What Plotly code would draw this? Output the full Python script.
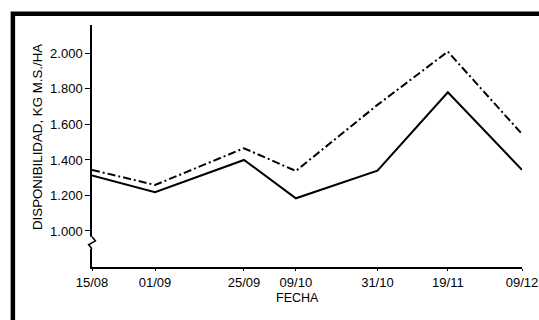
import plotly.graph_objects as go

fechas = ["1985-08-15", "1985-09-01", "1985-09-25", "1985-10-09", "1985-10-31", "1985-11-19", "1985-12-09"]
etiquetas_x = ["15/08", "01/09", "25/09", "09/10", "31/10", "19/11", "09/12"]
serie_continua = [1312, 1218, 1400, 1184, 1340, 1781, 1344]
serie_punteada = [1344, 1259, 1466, 1338, 1710, 2010, 1546]
ticks_y = [1000, 1200, 1400, 1600, 1800, 2000]
etiquetas_y = ["1.000", "1.200", "1.400", "1.600", "1.800", "2.000"]

FONT = "Liberation Sans, Arial, sans-serif"

fig = go.Figure()
fig.add_trace(go.Scatter(x=fechas, y=serie_punteada, mode="lines",
                         line=dict(color="black", width=2, dash="8px,3px,2px,3px"),
                         showlegend=False, hoverinfo="skip", cliponaxis=False))
fig.add_trace(go.Scatter(x=fechas, y=serie_continua, mode="lines",
                         line=dict(color="black", width=2),
                         showlegend=False, hoverinfo="skip", cliponaxis=False))

fig.update_layout(
    width=539, height=320,
    margin=dict(l=92, r=17, t=25, b=53),
    paper_bgcolor="white", plot_bgcolor="white",
    font=dict(family=FONT, size=13, color="black"),
    xaxis=dict(type="date", range=[fechas[0], fechas[-1]],
               tickvals=fechas, ticktext=etiquetas_x, automargin=False,
               ticklabeloverflow="allow",
               showline=True, linecolor="black", linewidth=2,
               ticks="outside", ticklen=2, tickwidth=1, tickcolor="black",
               showgrid=False, zeroline=False, tickfont=dict(size=13)),
    yaxis=dict(range=[797, 2160], tickvals=ticks_y, ticktext=etiquetas_y,
               automargin=False,
               showline=True, linecolor="black", linewidth=1.5,
               ticks="outside", ticklen=5, tickwidth=1, tickcolor="black",
               showgrid=False, zeroline=False, tickfont=dict(size=13)),
)

# y-axis title
fig.add_annotation(text="DISPONIBILIDAD, KG M.S./HA", xref="paper", yref="paper",
                   x=-0.128, y=0.537, textangle=-90, showarrow=False,
                   font=dict(size=13.3), xanchor="center", yanchor="middle")

# x-axis title
fig.add_annotation(text="FECHA", xref="paper", yref="paper", x=0.479, y=-0.127,
                   showarrow=False, font=dict(size=12.5), yanchor="middle")

# axis break marker
fig.add_shape(type="rect", xref="paper", yref="paper",
              x0=-0.006, x1=0.006, y0=0.075, y1=0.125,
              fillcolor="white", line=dict(width=0), layer="above")
fig.add_shape(type="path", xref="paper", yref="paper",
              path="M 0,0.125 L 0.008,0.108 L -0.008,0.092 L 0,0.075",
              line=dict(color="black", width=1.5), layer="above")

# thick frame at left and top
fig.add_shape(type="path", xref="paper", yref="paper",
              path="M -0.184,-0.25 L -0.184,1.047 L 1.05,1.047",
              line=dict(color="black", width=4.5), layer="above")

fig.write_html("out.html", config={"displayModeBar": False},
               post_script="document.body.style.margin='0';document.body.style.overflow='hidden';")
